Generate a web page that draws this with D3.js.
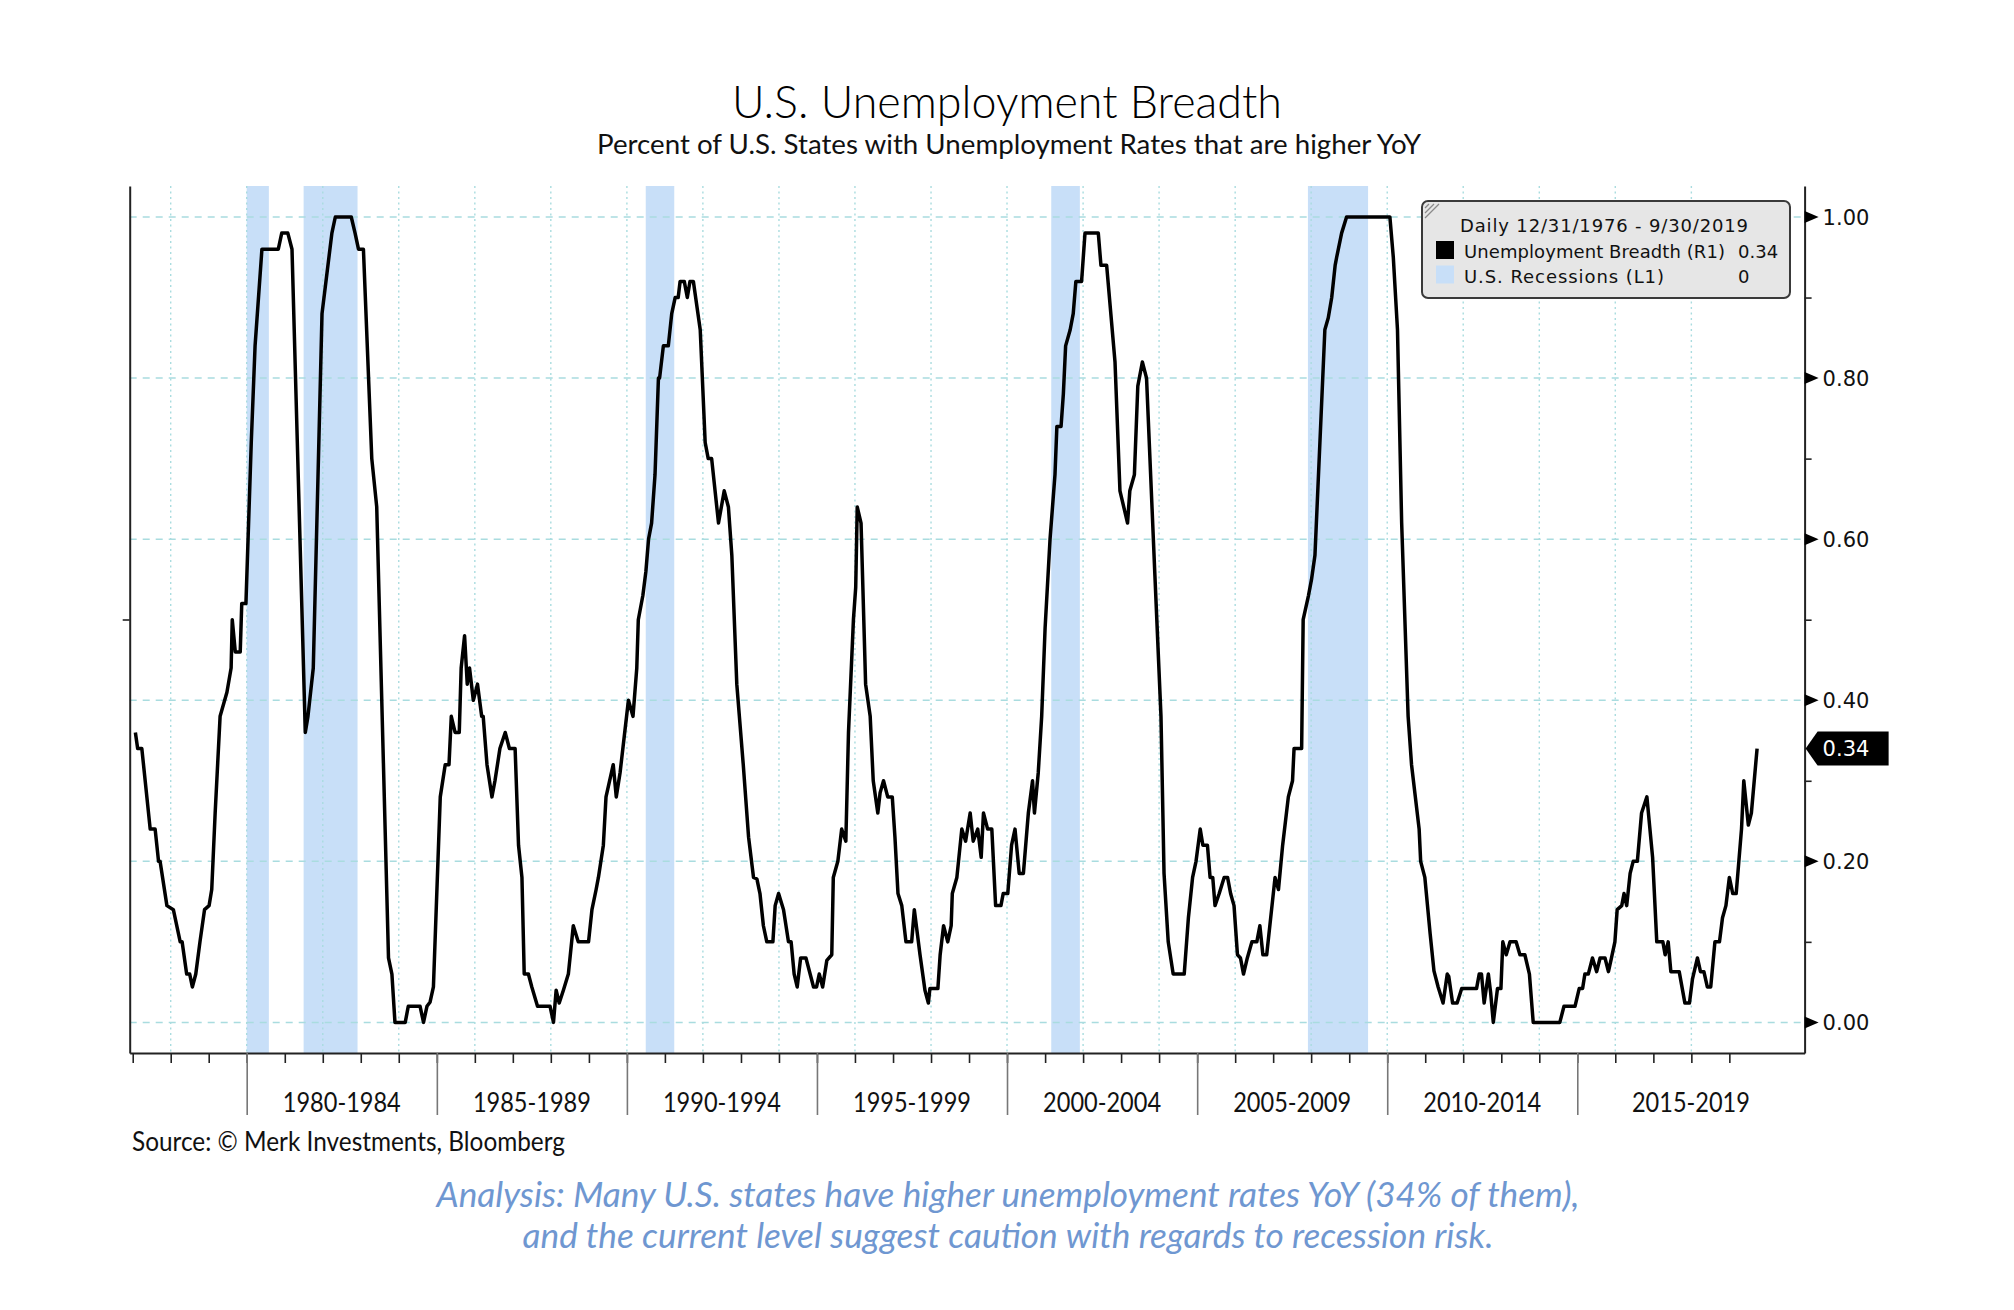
<!DOCTYPE html>
<html><head><meta charset="utf-8">
<script src="https://cdn.jsdelivr.net/npm/d3@7"></script>
<style>body{margin:0;background:#fff;} svg{display:block}</style>
</head><body><svg id="c" width="2014" height="1310"></svg>
<script>
// ---------- DATA ----------
// Unemployment breadth (share of US states with higher YoY unemployment), [decimal year, value]
const breadthSeries = [
[1977.07,0.36],[1977.13,0.34],[1977.24,0.34],[1977.46,0.24],[1977.59,0.24],[1977.68,0.20],[1977.72,0.20],[1977.90,0.145],[1978.07,0.14],[1978.25,0.10],[1978.30,0.10],[1978.42,0.06],[1978.50,0.06],[1978.57,0.044],[1978.66,0.06],[1978.77,0.10],[1978.89,0.14],[1979.01,0.145],[1979.08,0.165],[1979.17,0.26],[1979.30,0.38],[1979.36,0.39],[1979.48,0.41],[1979.59,0.44],[1979.62,0.50],[1979.70,0.46],[1979.83,0.46],[1979.87,0.52],[1979.98,0.52],
[1980.12,0.72],[1980.22,0.84],[1980.40,0.96],[1980.83,0.96],[1980.92,0.98],[1981.08,0.98],[1981.19,0.96],[1981.54,0.36],[1981.61,0.38],[1981.75,0.44],[1981.98,0.88],[1982.24,0.98],[1982.33,1.0],[1982.75,1.0],[1982.85,0.98],[1982.94,0.96],[1983.07,0.96],[1983.29,0.70],[1983.42,0.64],[1983.73,0.08],[1983.82,0.06],[1983.90,0.0],[1984.17,0.0],[1984.25,0.02],[1984.56,0.02],[1984.65,0.0],[1984.74,0.02],[1984.82,0.025],[1984.91,0.044],
[1985.09,0.28],[1985.22,0.32],[1985.32,0.32],[1985.38,0.38],[1985.48,0.36],[1985.59,0.36],[1985.64,0.44],[1985.73,0.48],[1985.80,0.42],[1985.86,0.44],[1985.96,0.40],[1986.07,0.42],[1986.18,0.38],[1986.22,0.38],[1986.32,0.32],[1986.45,0.28],[1986.53,0.30],[1986.66,0.34],[1986.80,0.36],[1986.91,0.34],[1987.06,0.34],[1987.15,0.22],[1987.24,0.18],[1987.30,0.06],[1987.41,0.06],[1987.50,0.044],[1987.65,0.02],[1987.98,0.02],[1988.07,0.0],[1988.14,0.04],[1988.22,0.024],[1988.33,0.04],[1988.46,0.06],[1988.59,0.12],[1988.72,0.10],[1988.99,0.10],[1989.08,0.14],[1989.19,0.165],[1989.25,0.18],[1989.38,0.22],[1989.45,0.28],[1989.64,0.32],[1989.72,0.28],[1989.82,0.31],
[1990.04,0.40],[1990.16,0.38],[1990.26,0.44],[1990.30,0.50],[1990.42,0.53],[1990.50,0.56],[1990.57,0.60],[1990.65,0.62],[1990.74,0.68],[1990.83,0.80],[1990.86,0.80],[1990.96,0.84],[1991.09,0.84],[1991.18,0.88],[1991.27,0.90],[1991.35,0.90],[1991.40,0.92],[1991.51,0.92],[1991.59,0.90],[1991.66,0.92],[1991.75,0.92],[1991.93,0.86],[1992.06,0.72],[1992.14,0.70],[1992.23,0.70],[1992.41,0.62],[1992.56,0.66],[1992.67,0.64],[1992.76,0.58],[1992.89,0.42],[1993.06,0.32],[1993.20,0.23],[1993.33,0.18],[1993.42,0.178],[1993.50,0.16],[1993.59,0.12],[1993.68,0.10],[1993.84,0.10],[1993.90,0.145],[1993.99,0.16],[1994.12,0.14],[1994.25,0.10],[1994.32,0.10],[1994.40,0.06],[1994.48,0.044],[1994.57,0.08],[1994.71,0.08],[1994.91,0.044],[1994.99,0.044],
[1995.06,0.06],[1995.15,0.044],[1995.26,0.077],[1995.39,0.084],[1995.43,0.18],[1995.55,0.20],[1995.65,0.24],[1995.76,0.225],[1995.83,0.36],[1995.96,0.50],[1996.02,0.54],[1996.06,0.64],[1996.16,0.62],[1996.28,0.42],[1996.40,0.38],[1996.48,0.30],[1996.60,0.26],[1996.66,0.285],[1996.75,0.30],[1996.86,0.28],[1996.98,0.28],[1997.05,0.23],[1997.13,0.16],[1997.23,0.145],[1997.34,0.10],[1997.49,0.10],[1997.56,0.14],[1997.71,0.084],[1997.84,0.04],[1997.93,0.024],[1997.97,0.042],[1998.18,0.042],[1998.24,0.084],[1998.33,0.12],[1998.44,0.10],[1998.53,0.12],[1998.56,0.16],[1998.68,0.18],[1998.81,0.24],[1998.91,0.225],[1999.03,0.26],[1999.11,0.225],[1999.23,0.24],[1999.32,0.205],[1999.38,0.26],[1999.49,0.24],[1999.60,0.24],[1999.70,0.145],[1999.84,0.145],[1999.90,0.16],
[2000.02,0.16],[2000.12,0.22],[2000.21,0.24],[2000.32,0.185],[2000.43,0.185],[2000.56,0.26],[2000.67,0.30],[2000.72,0.26],[2000.82,0.31],[2000.91,0.38],[2001.00,0.49],[2001.13,0.60],[2001.26,0.68],[2001.31,0.74],[2001.42,0.74],[2001.48,0.78],[2001.54,0.84],[2001.66,0.86],[2001.74,0.88],[2001.81,0.92],[2001.96,0.92],[2002.05,0.98],[2002.40,0.98],[2002.47,0.94],[2002.62,0.94],[2002.84,0.82],[2002.97,0.66],[2003.17,0.62],[2003.23,0.66],[2003.35,0.68],[2003.44,0.79],[2003.56,0.82],[2003.67,0.80],[2003.89,0.555],[2004.05,0.38],[2004.13,0.185],[2004.24,0.10],[2004.37,0.06],[2004.66,0.06],[2004.77,0.13],[2004.88,0.18],[2004.97,0.20],
[2005.08,0.24],[2005.15,0.22],[2005.27,0.22],[2005.34,0.18],[2005.41,0.18],[2005.47,0.145],[2005.58,0.16],[2005.71,0.18],[2005.80,0.18],[2005.88,0.16],[2005.97,0.145],[2006.06,0.084],[2006.14,0.08],[2006.22,0.06],[2006.32,0.08],[2006.44,0.10],[2006.57,0.10],[2006.65,0.12],[2006.73,0.084],[2006.83,0.084],[2007.05,0.18],[2007.14,0.165],[2007.25,0.22],[2007.40,0.28],[2007.51,0.30],[2007.55,0.34],[2007.75,0.34],[2007.79,0.50],[2007.93,0.53],[2008.01,0.55],[2008.10,0.58],[2008.23,0.72],[2008.36,0.86],[2008.45,0.875],[2008.54,0.90],[2008.63,0.94],[2008.67,0.95],[2008.80,0.98],[2008.93,1.0],
[2010.07,1.0],[2010.16,0.95],[2010.27,0.86],[2010.38,0.62],[2010.55,0.38],[2010.64,0.32],[2010.84,0.24],[2010.88,0.20],[2010.99,0.18],[2011.13,0.11],[2011.23,0.064],[2011.34,0.044],[2011.47,0.024],[2011.58,0.06],[2011.62,0.057],[2011.72,0.024],[2011.84,0.024],[2011.96,0.042],[2012.35,0.042],[2012.42,0.06],[2012.48,0.06],[2012.55,0.024],[2012.66,0.06],[2012.72,0.037],[2012.79,0.0],[2012.90,0.042],[2012.99,0.042],[2013.04,0.10],[2013.13,0.084],[2013.23,0.10],[2013.39,0.10],[2013.49,0.084],[2013.62,0.084],[2013.74,0.06],[2013.84,0.0],[2014.54,0.0],[2014.65,0.02],[2014.94,0.02],
[2015.05,0.042],[2015.14,0.042],[2015.20,0.06],[2015.29,0.06],[2015.40,0.08],[2015.51,0.063],[2015.60,0.08],[2015.73,0.08],[2015.82,0.063],[2015.90,0.08],[2015.99,0.10],[2016.05,0.14],[2016.17,0.145],[2016.23,0.16],[2016.30,0.145],[2016.39,0.185],[2016.47,0.20],[2016.58,0.20],[2016.69,0.26],[2016.83,0.28],[2016.98,0.205],[2017.09,0.10],[2017.25,0.10],[2017.31,0.084],[2017.39,0.10],[2017.46,0.063],[2017.68,0.063],[2017.83,0.024],[2017.95,0.024],[2018.03,0.054],[2018.16,0.08],[2018.24,0.063],[2018.33,0.063],[2018.42,0.044],[2018.51,0.044],[2018.62,0.10],[2018.74,0.10],[2018.82,0.13],[2018.91,0.145],[2019.00,0.18],[2019.09,0.16],[2019.18,0.16],[2019.32,0.24],[2019.38,0.30],[2019.50,0.245],[2019.58,0.26],[2019.73,0.34]
];
// US recessions (first month, last month)
const recessionStarts = ["1980-01","1981-07","1990-07","2001-03","2007-12"];
const recessionEnds   = ["1980-07","1982-11","1991-03","2001-11","2009-06"];
// axis ticks
const rightMajorTicks = [0, 0.2, 0.4, 0.6, 0.8, 1.0];
const rightMinorTicks = [0.1, 0.3, 0.5, 0.7, 0.9];
const periodStartYears = [1980, 1985, 1990, 1995, 2000, 2005, 2010, 2015];
const periodLabels = ["1980-1984","1985-1989","1990-1994","1995-1999","2000-2004","2005-2009","2010-2014","2015-2019"];
const lastValue = 0.34;
const legendTitle = "Daily 12/31/1976 - 9/30/2019";
const legendNames = ["Unemployment Breadth (R1)", "U.S. Recessions (L1)"];
const legendValues = ["0.34", "0"];

// ---------- LAYOUT ----------
const plot = {left:129.7, right:1804.6, top:186, bottom:1053};
const COL_REC = "#c8dff8", COL_GRID = "#a9dcdf";
const svg = d3.select("#c");
svg.append("rect").attr("width",2014).attr("height",1310).attr("fill","#fff");

function decToDate(d){ const yr=Math.floor(d); const s=Date.UTC(yr,0,1), e=Date.UTC(yr+1,0,1); return new Date(s+(d-yr)*(e-s)); }
function monthStart(s){ const [a,b]=s.split("-").map(Number); return new Date(Date.UTC(a,b-1,1)); }
function monthEnd(s){ const [a,b]=s.split("-").map(Number); return new Date(Date.UTC(a,b,1)); }

const x = d3.scaleUtc().domain([new Date(Date.UTC(1976,11,3)), new Date(Date.UTC(2020,11,24))]).range([plot.left, plot.right]);
const y = d3.scaleLinear().domain([-0.038, 1.0385]).range([plot.bottom, plot.top]);
const yL = d3.scaleLinear().domain([0, 1]).range([plot.bottom, plot.top]);

// recession bars
svg.append("g").selectAll("rect").data(recessionStarts.map((s,i)=>({s, e:recessionEnds[i]})))
  .join("rect")
  .attr("x", d=>x(monthStart(d.s))).attr("width", d=>x(monthEnd(d.e))-x(monthStart(d.s)))
  .attr("y", yL(1)).attr("height", yL(0)-yL(1)).attr("fill", COL_REC);

// grid
const gridYears = d3.range(1978, 2019, 2).map(yr=>new Date(Date.UTC(yr,0,1)));
svg.append("g").selectAll("line").data(gridYears).join("line")
  .attr("x1", d=>x(d)).attr("x2", d=>x(d)).attr("y1", plot.top).attr("y2", plot.bottom)
  .attr("stroke", COL_GRID).attr("stroke-width", 1.4).attr("stroke-dasharray","2,3.5");
svg.append("g").selectAll("line").data(rightMajorTicks).join("line")
  .attr("x1", plot.left).attr("x2", plot.right).attr("y1", d=>y(d)).attr("y2", d=>y(d))
  .attr("stroke", COL_GRID).attr("stroke-width", 1.5).attr("stroke-dasharray","7,6");

// line
const line = d3.line().x(d=>x(decToDate(d[0]))).y(d=>y(d[1]));
svg.append("path").datum(breadthSeries).attr("d", line)
  .attr("fill","none").attr("stroke","#000").attr("stroke-width",3.5).attr("stroke-linejoin","round");

// bottom axis (yearly ticks)
const yearTicks = d3.range(1977, 2020).map(yr=>new Date(Date.UTC(yr,0,1)));
const gx = svg.append("g").attr("transform",`translate(0,${plot.bottom})`)
  .call(d3.axisBottom(x).tickValues(yearTicks).tickSize(10).tickSizeOuter(0).tickFormat(""));
gx.select(".domain").attr("stroke","#222").attr("stroke-width",2);
gx.selectAll(".tick line").attr("stroke","#222").attr("stroke-width",1.6);

// period separators
const periodDates = periodStartYears.map(yr=>new Date(Date.UTC(yr,0,1)));
const gs = svg.append("g").attr("transform",`translate(0,${plot.bottom})`)
  .call(d3.axisBottom(x).tickValues(periodDates).tickSize(62).tickSizeOuter(0).tickFormat(""));
gs.select(".domain").remove();
gs.selectAll(".tick line").attr("stroke","#777").attr("stroke-width",1.6);

// period labels
svg.append("g").selectAll("text").data(periodLabels).join("text")
  .attr("x", (d,i)=>{ const a=x(periodDates[i]); const b = i<periodDates.length-1 ? x(periodDates[i+1]) : plot.right; return (a+b)/2; })
  .attr("y", 1112).attr("text-anchor","middle")
  .attr("font-family","Lato, 'Open Sans', sans-serif").attr("font-size",26).attr("fill","#111")
  .attr("textLength",118).attr("lengthAdjust","spacingAndGlyphs")
  .text(d=>d);

// left axis (recession scale, one mid tick)
const gl = svg.append("g").attr("transform",`translate(${plot.left},0)`)
  .call(d3.axisLeft(yL).tickValues([0.5]).tickSize(7).tickSizeOuter(0).tickFormat(""));
gl.select(".domain").attr("stroke","#222").attr("stroke-width",2);
gl.selectAll(".tick line").attr("stroke","#222").attr("stroke-width",1.6);

// right axis
const gr = svg.append("g").attr("transform",`translate(${plot.right},0)`)
  .call(d3.axisRight(y).tickValues(rightMinorTicks).tickSize(7).tickSizeOuter(0).tickFormat(""));
gr.select(".domain").attr("stroke","#222").attr("stroke-width",2);
gr.selectAll(".tick line").attr("stroke","#222").attr("stroke-width",1.6);
const gm = svg.append("g").attr("transform",`translate(${plot.right},0)`);
gm.selectAll("path").data(rightMajorTicks).join("path")
  .attr("d", d=>`M0,${y(d)-6}L14,${y(d)}L0,${y(d)+6}Z`).attr("fill","#000");
gm.selectAll("text").data(rightMajorTicks).join("text")
  .attr("x", 18).attr("y", d=>y(d)).attr("dy","0.36em")
  .attr("font-family","'DejaVu Sans', Verdana, sans-serif").attr("font-size",21).attr("fill","#111")
  .text(d=>d3.format(".2f")(d));

// last value marker
const yv = y(lastValue);
gm.append("path").attr("d",`M1,${yv}L13,${yv-17}L84,${yv-17}L84,${yv+17}L13,${yv+17}Z`).attr("fill","#000");
gm.append("text").attr("x",18).attr("y",yv).attr("dy","0.36em")
  .attr("font-family","'DejaVu Sans', Verdana, sans-serif").attr("font-size",21).attr("fill","#fff")
  .text(d3.format(".2f")(lastValue));

// legend
const lg = svg.append("g").attr("transform","translate(1422,201)");
lg.append("rect").attr("width",368).attr("height",97).attr("rx",6).attr("fill","#e6e6e6").attr("stroke","#3a3a3a").attr("stroke-width",2);
[4,9,14].forEach(o=>lg.append("line").attr("x1",3).attr("y1",o+3).attr("x2",o+3).attr("y2",3)
  .attr("stroke","#8a8a8a").attr("stroke-width",1.3));
const lf = "'DejaVu Sans', Verdana, sans-serif";
lg.append("text").attr("x",38).attr("y",31).attr("font-family",lf).attr("font-size",18).attr("fill","#111")
  .attr("textLength",288).attr("lengthAdjust","spacing").text(legendTitle);
const legendColors = ["#000", COL_REC];
legendNames.forEach((n,i)=>{
  const yy = 57 + i*24.5;
  lg.append("rect").attr("x",14).attr("y",yy-17).attr("width",18).attr("height",18).attr("fill",legendColors[i]);
  lg.append("text").attr("x",42).attr("y",yy).attr("font-family",lf).attr("font-size",18).attr("fill","#111")
    .attr("textLength", i===0?261:200).attr("lengthAdjust","spacing").text(n);
  lg.append("text").attr("x",316).attr("y",yy).attr("font-family",lf).attr("font-size",18).attr("fill","#111").text(legendValues[i]);
});

// titles
const tf = "Lato, 'Open Sans', sans-serif";
svg.append("text").attr("x",1007).attr("y",118).attr("text-anchor","middle").attr("font-family",tf)
  .attr("font-size",45).attr("font-weight",300).attr("fill","#000").attr("textLength",550).attr("lengthAdjust","spacingAndGlyphs")
  .text("U.S. Unemployment Breadth");
svg.append("text").attr("x",1009).attr("y",154).attr("text-anchor","middle").attr("font-family",tf)
  .attr("font-size",27).attr("fill","#111").attr("textLength",824).attr("lengthAdjust","spacingAndGlyphs")
  .text("Percent of U.S. States with Unemployment Rates that are higher YoY");
svg.append("text").attr("x",132).attr("y",1151).attr("font-family",tf)
  .attr("font-size",26).attr("fill","#111").attr("textLength",433).attr("lengthAdjust","spacingAndGlyphs")
  .text("Source: © Merk Investments, Bloomberg");
svg.append("text").attr("x",1008).attr("y",1207).attr("text-anchor","middle").attr("font-family",tf)
  .attr("font-style","italic").attr("font-size",34).attr("fill","#6f97d1").attr("textLength",1143).attr("lengthAdjust","spacingAndGlyphs")
  .text("Analysis: Many U.S. states have higher unemployment rates YoY (34% of them),");
svg.append("text").attr("x",1008).attr("y",1248).attr("text-anchor","middle").attr("font-family",tf)
  .attr("font-style","italic").attr("font-size",34).attr("fill","#6f97d1").attr("textLength",971).attr("lengthAdjust","spacingAndGlyphs")
  .text("and the current level suggest caution with regards to recession risk.");
</script></body></html>
